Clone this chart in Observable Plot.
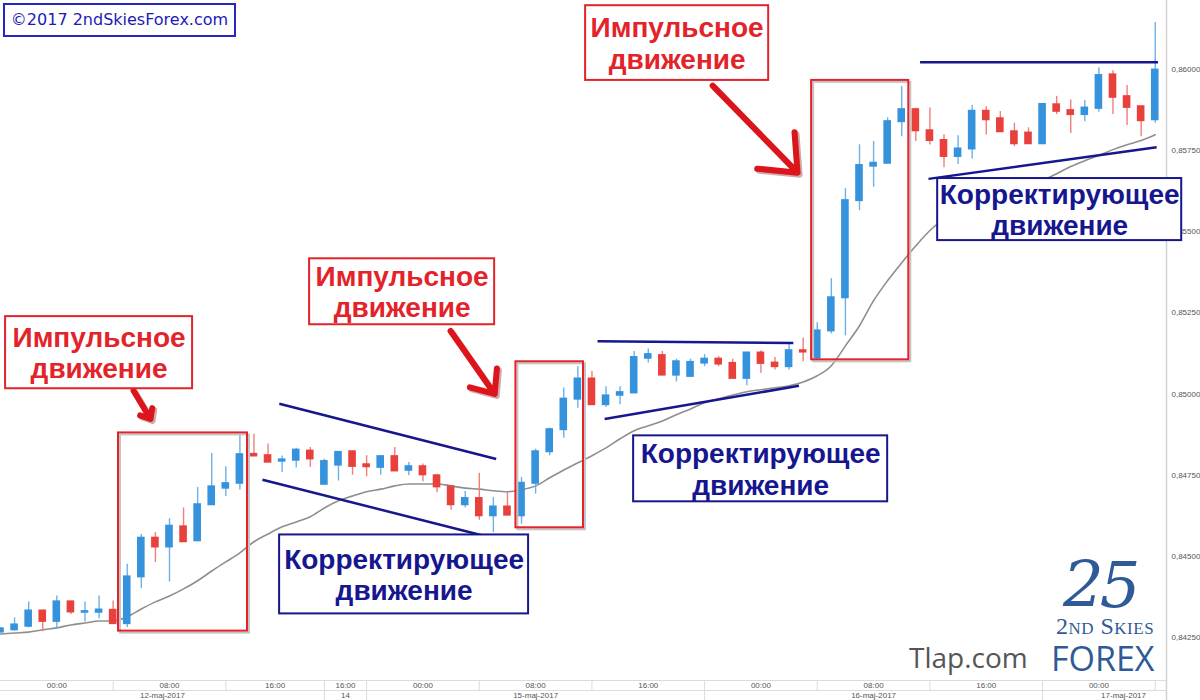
<!DOCTYPE html>
<html><head><meta charset="utf-8">
<script src="https://cdn.jsdelivr.net/npm/d3@7"></script>
<script src="https://cdn.jsdelivr.net/npm/@observablehq/plot@0.6"></script>
<style>
body{margin:0;background:#fff;}
#wrap{position:relative;width:1200px;height:700px;overflow:hidden;background:#fff;}
#wrap svg{display:block;}
#copy{position:absolute;left:3px;top:3px;width:229px;height:30px;border:2px solid #2626c4;background:#fff;color:#1b1bb5;font:16px "DejaVu Sans",sans-serif;line-height:30px;text-align:center;white-space:nowrap;}
#tlap{position:absolute;left:909px;top:643px;font:28px "Open Sans",sans-serif;line-height:1;color:#555;}
#n25{position:absolute;left:1063px;top:558px;font:italic 300 64px "DejaVu Serif",serif;line-height:0.85;color:#2f5a98;letter-spacing:-4px;}
#skies{position:absolute;left:1050px;top:617px;width:110px;text-align:center;font:24px "Liberation Serif",serif;line-height:0.8;font-variant:small-caps;color:#2f5a98;letter-spacing:0.5px;}
#forex{position:absolute;left:1051px;top:645px;font:34px "Open Sans",sans-serif;line-height:0.8;color:#2f5a98;}
</style></head><body>
<div id="wrap"></div>
<script>
// ---- data: hourly candles, 12–17 May 2017 (index = candle number) ----
const open = [
.84267,.84274,.84285,.84332,.84300,.84360,.84328,.84328,.84334,.84293,
.84437,.84556,.84529,.84591,.84548,.84659,.84710,.84725,.84814,.84810,
.84793,.84796,.84824,.84722,.84781,.84822,.84782,.84774,.84807,.84765,
.84776,.84748,.84714,.84659,.84678,.84625,.84652,.84625,.84725,.84822,
.84890,.84984,.85046,.84967,.84996,.85003,.85110,.85118,.85058,.85054,
.85095,.85107,.85094,.85048,.85126,.85095,.85084,.85133,.85111,.85194,
.85296,.85595,.85701,.85710,.85838,.85875,.85810,.85780,.85731,.85754,
.85870,.85847,.85807,.85803,.85770,.85890,.85872,.85860,.85879,.85982,
.85915,.85884,.85844];
const high = [
.84280,.84311,.84360,.84334,.84378,.84362,.84360,.84378,.84363,.84476,
.84568,.84573,.84616,.84649,.84712,.84817,.84776,.84876,.84876,.84846,
.84809,.84833,.84835,.84799,.84823,.84824,.84810,.84809,.84835,.84789,
.84784,.84753,.84716,.84700,.84756,.84681,.84696,.84743,.84830,.84895,
.85018,.85084,.85069,.85022,.85022,.85131,.85138,.85131,.85107,.85107,
.85121,.85115,.85107,.85128,.85133,.85112,.85154,.85172,.85219,.85355,
.85632,.85767,.85777,.85850,.85946,.85879,.85880,.85798,.85795,.85888,
.85884,.85869,.85833,.85819,.85893,.85916,.85905,.85903,.86004,.85995,
.85949,.85884,.86143];
const low = [
.84264,.84270,.84280,.84268,.84275,.84321,.84298,.84307,.84290,.84280,
.84401,.84481,.84421,.84543,.84546,.84657,.84684,.84704,.84808,.84788,
.84758,.84772,.84774,.84720,.84732,.84750,.84745,.84750,.84761,.84748,
.84730,.84696,.84642,.84650,.84611,.84573,.84625,.84599,.84692,.84810,
.84864,.84956,.84965,.84958,.84967,.85001,.85095,.85056,.85037,.85052,
.85084,.85084,.85046,.85025,.85064,.85074,.85074,.85099,.85102,.85185,
.85179,.85564,.85636,.85708,.85792,.85777,.85766,.85696,.85706,.85723,
.85797,.85805,.85761,.85768,.85768,.85860,.85802,.85838,.85867,.85860,
.85826,.85792,.85833];
const close = [
.84277,.84289,.84332,.84300,.84360,.84329,.84330,.84335,.84293,.84437,
.84556,.84529,.84593,.84545,.84659,.84714,.84724,.84813,.84809,.84790,
.84797,.84827,.84800,.84792,.84820,.84777,.84776,.84807,.84763,.84776,
.84751,.84714,.84659,.84678,.84625,.84652,.84627,.84725,.84822,.84890,
.84984,.85046,.84967,.84994,.85004,.85112,.85121,.85058,.85099,.85097,
.85107,.85092,.85048,.85126,.85094,.85084,.85133,.85129,.85194,.85296,
.85595,.85703,.85710,.85838,.85875,.85810,.85780,.85731,.85754,.85870,
.85844,.85807,.85770,.85770,.85891,.85870,.85860,.85880,.85980,.85913,
.85882,.85841,.85997];
// moving average (grey line)
const movingAvg = [
.84261,.84264,.84267,.84274,.84280,.84289,.84295,.84301,.84301,.84314,
.84338,.84360,.84378,.84400,.84425,.84455,.84483,.84511,.84545,.84569,
.84591,.84606,.84622,.84649,.84671,.84686,.84699,.84707,.84717,.84723,
.84723,.84723,.84717,.84710,.84707,.84702,.84699,.84705,.84717,.84742,
.84766,.84788,.84810,.84834,.84862,.84887,.84902,.84917,.84936,.84954,
.84973,.84985,.84997,.85007,.85013,.85019,.85025,.85037,.85056,.85087,
.85148,.85210,.85287,.85349,.85404,.85456,.85503,.85539,.85564,.85586,
.85601,.85613,.85626,.85638,.85657,.85678,.85700,.85718,.85734,.85752,
.85767,.85780,.85798];

// price axis ticks
const yTicks = [0.8425, 0.845, 0.8475, 0.85, 0.8525, 0.855, 0.8575, 0.86];

// time axis (candle-index cells)
const timeLabels = ["00:00","08:00","16:00","16:00","00:00","08:00","16:00","00:00","08:00","16:00","00:00"];
const timeStart  = [0, 8, 16, 23, 26, 34, 42, 50, 58, 66, 74];
const timeEnd    = [8, 16, 23, 26, 34, 42, 50, 58, 66, 74, 82];
const dateLabels = ["12-maj-2017","14","15-maj-2017","16-maj-2017","17-maj-2017"];
const dateStart  = [0, 23, 26, 50, 74];
const dateEnd    = [23, 26, 50, 74, 85.5];

// annotations (candle index / price)
const impulseX1 = [8.38, 36.6, 57.6];
const impulseX2 = [17.54, 41.4, 64.5];
const impulseTop = [0.84880, 0.85099, 0.85965];
const impulseBottom = [0.84270, 0.84588, 0.85105];

const trendX1 = [19.8, 18.6, 42.4, 42.9, 65.3, 65.9];
const trendY1 = [0.84970, 0.84736, 0.85162, 0.84923, 0.86021, 0.85662];
const trendX2 = [35.2, 34.1, 56.3, 56.7, 82.2, 82.1];
const trendY2 = [0.84800, 0.84566, 0.85157, 0.85025, 0.86021, 0.85759];

const impulseText = "Импульсное\nдвижение";
const correctText = "Корректирующее\nдвижение";
const labelKind = ["impulse","impulse","impulse","correct","correct","correct"];
const labelX1 = [0.36, 21.95, 41.55, 19.82, 44.96, 66.55];
const labelX2 = [13.64, 35.09, 54.55, 37.50, 63.00, 83.88];
const labelTop = [0.85238, 0.85416, 0.86195, 0.84566, 0.84871, 0.85663];
const labelBottom = [0.85016, 0.85213, 0.85965, 0.84323, 0.84668, 0.85472];

const arrowX1 = [9.45, 31.96, 50.57];
const arrowY1 = [0.85010, 0.85194, 0.85949];
const arrowX2 = [10.65, 35.09, 56.60];
const arrowY2 = [0.84923, 0.85000, 0.85681];

// ---- build ----
const xMax = 82.8;
const RED = "#e3232a", NAVY = "#16168f";
const BLUE_B = "#3592dc", BLUE_W = "#6fb0e6", RED_B = "#e8403a", RED_W = "#ef7f7a";

const candles = open.map((o, i) => ({i, o, h: high[i], l: low[i], c: close[i]}));
const isUp = d => d.c >= d.o;
const boxes = impulseX1.map((x1, i) => ({x1, x2: impulseX2[i], y1: impulseTop[i], y2: impulseBottom[i]}));
const trends = trendX1.map((x1, i) => ({x1, x2: trendX2[i], y1: trendY1[i], y2: trendY2[i]}));
const labels = labelKind.map((k, i) => ({
  kind: k, text: k === "impulse" ? impulseText : correctText,
  x1: labelX1[i], x2: labelX2[i], y1: labelTop[i], y2: labelBottom[i],
  color: k === "impulse" ? RED : NAVY
}));
const arrows = arrowX1.map((x1, i) => ({x1, y1: arrowY1[i], x2: arrowX2[i], y2: arrowY2[i]}));
const fmt = d => d.toFixed(5).replace(".", ",");

const chart = Plot.plot({
  width: 1200, height: 680,
  marginLeft: 0, marginRight: 34, marginTop: 0, marginBottom: 0,
  style: {fontFamily: "Arial, 'Liberation Sans', sans-serif", background: "transparent", overflow: "visible"},
  x: {domain: [0, xMax], axis: null},
  y: {domain: [0.84118, 0.86211], axis: null},
  color: {type: "identity"},
  marks: [
    Plot.axisY({anchor: "right", ticks: yTicks, tickSize: 0, tickPadding: 5, tickFormat: fmt, fontSize: 8, fill: "#555", label: null}),
    Plot.ruleX([xMax], {stroke: "#d2d2d2", strokeWidth: 1.5}),
    Plot.line(movingAvg, {x: (d, i) => i, y: d => d, stroke: "#8e8e8e", strokeWidth: 1.6, curve: "monotone-x", clip: true}),
    Plot.ruleX(candles, {x: "i", y1: "l", y2: "h", stroke: d => isUp(d) ? BLUE_W : RED_W, strokeWidth: 1.4, clip: true}),
    Plot.rect(candles, {x1: d => d.i - 0.27, x2: d => d.i + 0.27, y1: "o", y2: "c", fill: d => isUp(d) ? BLUE_B : RED_B, insetTop: -1, insetBottom: -1, clip: true}),
    Plot.link(trends, {x1: "x1", y1: "y1", x2: "x2", y2: "y2", stroke: NAVY, strokeWidth: 2.5}),
    Plot.rect(boxes, {x1: "x1", x2: "x2", y1: "y1", y2: "y2", fill: "none", stroke: "#c4c4c4", strokeWidth: 2, dx: 2, dy: 2}),
    Plot.rect(boxes, {x1: "x1", x2: "x2", y1: "y1", y2: "y2", fill: "none", stroke: RED, strokeWidth: 2}),
    Plot.arrow(arrows, {x1: "x1", y1: "y1", x2: "x2", y2: "y2", stroke: "#7a0a0a", strokeOpacity: 0.35, strokeWidth: 6, headLength: 16, headAngle: 80, dx: 2, dy: 2}),
    Plot.arrow(arrows, {x1: "x1", y1: "y1", x2: "x2", y2: "y2", stroke: "#dc141c", strokeWidth: 6, headLength: 16, headAngle: 80}),
    Plot.rect(labels, {x1: "x1", x2: "x2", y1: "y1", y2: "y2", fill: "white", stroke: "color", strokeWidth: 2}),
    Plot.text(labels, {x: d => (d.x1 + d.x2) / 2, y: d => (d.y1 + d.y2) / 2, text: "text", fill: "color", fontSize: 28, fontWeight: "bold", lineHeight: 1.12, fontFamily: "'Liberation Sans', Arial, sans-serif"})
  ]
});

const strip = Plot.plot({
  width: 1200, height: 20,
  marginLeft: 0, marginRight: 34, marginTop: 0, marginBottom: 0,
  style: {fontFamily: "Arial, 'Liberation Sans', sans-serif", background: "transparent", overflow: "visible"},
  x: {domain: [0, xMax], axis: null},
  y: {domain: [0, 2], range: [0, 20], axis: null},
  marks: [
    Plot.ruleY([0, 1, 2], {stroke: "#dcdcdc"}),
    Plot.ruleX(timeStart.slice(1).concat([timeEnd[timeEnd.length - 1]]), {y1: 0, y2: 1, stroke: "#dcdcdc"}),
    Plot.ruleX(dateStart.slice(1), {y1: 1, y2: 2, stroke: "#dcdcdc"}),
    Plot.ruleX([xMax], {y1: 0, y2: 2, stroke: "#d2d2d2", strokeWidth: 1.5}),
    Plot.text(timeLabels, {x: (d, i) => (timeStart[i] + timeEnd[i]) / 2, y: () => 0.5, text: d => d, fontSize: 8, fill: "#555"}),
    Plot.text(dateLabels, {x: (d, i) => (dateStart[i] + dateEnd[i]) / 2, y: () => 1.5, text: d => d, fontSize: 8, fill: "#555"})
  ]
});

const wrap = document.getElementById("wrap");
wrap.appendChild(chart);
wrap.appendChild(strip);
wrap.insertAdjacentHTML("beforeend",
  '<div id="copy">©2017 2ndSkiesForex.com</div>' +
  '<div id="tlap">Tlap.com</div>' +
  '<div id="n25">25</div>' +
  '<div id="skies">2nd Skies</div>' +
  '<div id="forex">FOREX</div>');
</script>
</body></html>
